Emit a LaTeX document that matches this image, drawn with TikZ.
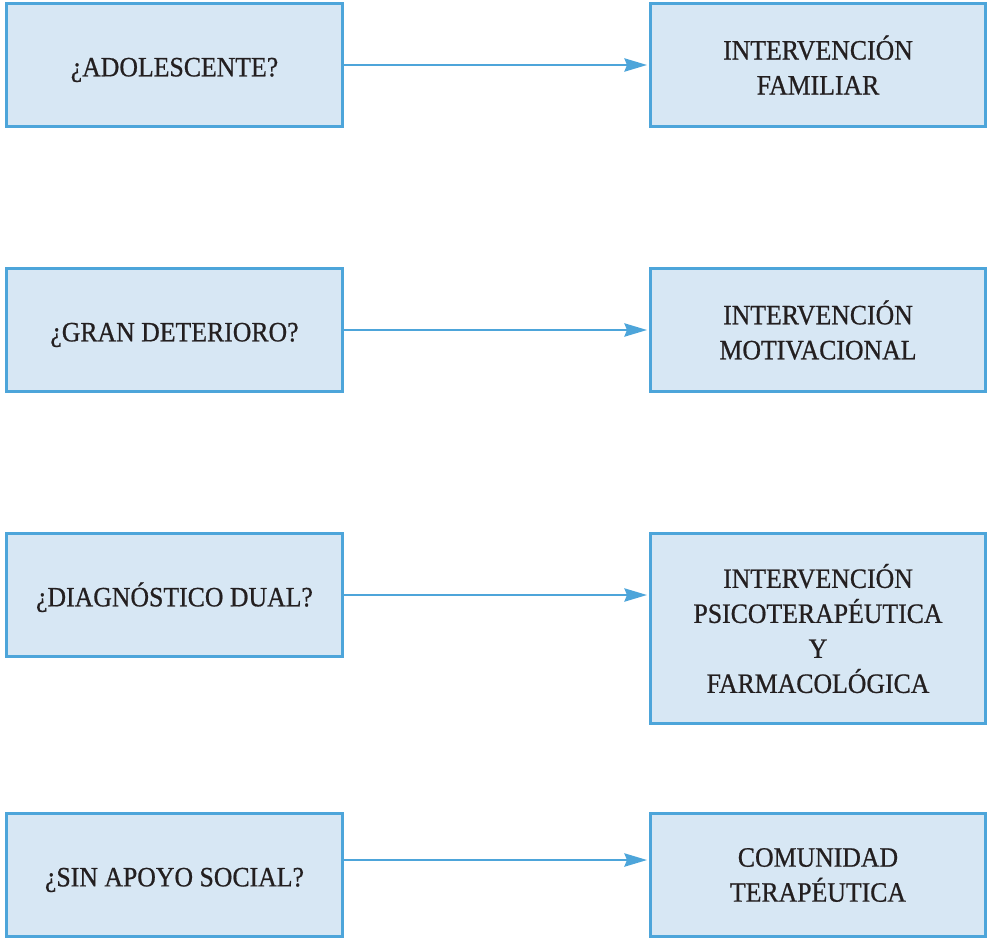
\documentclass[tikz,border=0pt]{standalone}
\usepackage{fontspec}
\setmainfont{Liberation Serif}[FakeStretch=0.92, FakeBold=0.7]
\usetikzlibrary{arrows.meta}
\definecolor{boxfill}{HTML}{D7E7F4}
\definecolor{boxline}{HTML}{4DA5DA}
\definecolor{ink}{HTML}{231F20}
\tikzset{
  abox/.style={draw=boxline, fill=boxfill, line width=2.25pt, rectangle,
    minimum width=251.25pt, minimum height=92.25pt, inner sep=0pt,
    align=center, text=ink, font=\fontsize{21pt}{26.25pt}\selectfont},
  qbox/.style={abox, minimum width=252pt, text height=17pt, text depth=0pt},
  arr/.style={draw=boxline, line width=1.5pt,
    -{Stealth[length=17pt, width=10pt, inset=2pt]}, shorten >=1.5pt}
}
\begin{document}
\begin{tikzpicture}[x=0.75pt, y=-0.75pt]
\useasboundingbox (0,0) rectangle (987,939);
\node[qbox] (l1) at (174.5,65) {¿ADOLESCENTE?};
\node[qbox] (l2) at (174.5,330) {¿GRAN DETERIORO?};
\node[qbox] (l3) at (174.5,595) {¿DIAGNÓSTICO DUAL?};
\node[qbox] (l4) at (174.5,875) {¿SIN APOYO SOCIAL?};
\node[abox] (r1) at (818,65) {INTERVENCIÓN\\FAMILIAR};
\node[abox] (r2) at (818,330) {INTERVENCIÓN\\MOTIVACIONAL};
\node[abox, minimum height=142.5pt] (r3) at (818,628.5) {INTERVENCIÓN\\PSICOTERAPÉUTICA\\Y\\FARMACOLÓGICA};
\node[abox] (r4) at (818,875) {COMUNIDAD\\TERAPÉUTICA};
\draw[arr] (l1.east) -- (r1.west);
\draw[arr] (l2.east) -- (r2.west);
\draw[arr] (l3.east) -- (l3.east -| r3.west);
\draw[arr] ([yshift=11.25pt]l4.east) -- ([yshift=11.25pt]r4.west);
\end{tikzpicture}
\end{document}
